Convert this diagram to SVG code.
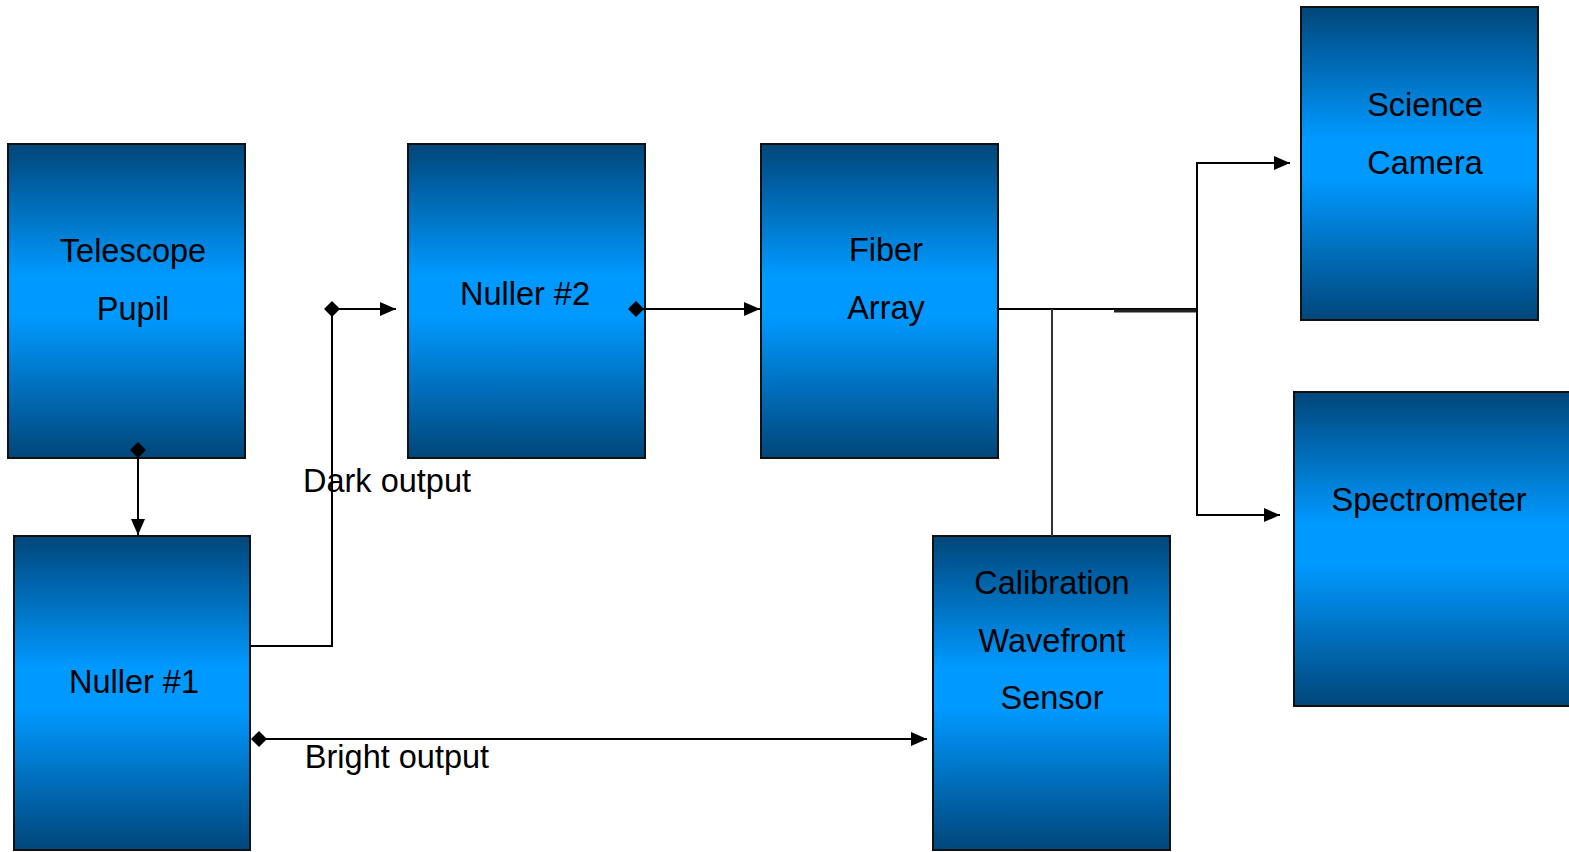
<svg xmlns="http://www.w3.org/2000/svg" width="1569" height="852" viewBox="0 0 1569 852">
<style>
.box{fill:url(#g);stroke:#111;stroke-width:2}
.t{font-family:"Liberation Sans",Arial,sans-serif;font-size:32.5px;fill:#000;text-anchor:middle}
.c{fill:none;stroke:#000;stroke-width:2}
</style>
<defs>
<linearGradient id="g" x1="0" y1="0" x2="0" y2="1">
<stop offset="0" stop-color="#00467a"/>
<stop offset="0.42" stop-color="#0099ff"/>
<stop offset="0.55" stop-color="#0099ff"/>
<stop offset="1" stop-color="#00467a"/>
</linearGradient>
<marker id="a" markerWidth="16" markerHeight="14" refX="16" refY="7" orient="auto" markerUnits="userSpaceOnUse"><path d="M0,0 L16,7 L0,14 Z" fill="#000"/></marker>
<marker id="d" markerWidth="16" markerHeight="16" refX="8" refY="8" orient="auto" markerUnits="userSpaceOnUse"><path d="M0,8 L8,0 L16,8 L8,16 Z" fill="#000"/></marker>
</defs>
<g id="telescope"><rect class="box" x="8" y="144" width="237" height="314"/><text class="t" x="133" y="262">Telescope</text><text class="t" x="133" y="320">Pupil</text></g>
<g id="nuller2"><rect class="box" x="408" y="144" width="237" height="314"/><text class="t" x="525" y="305">Nuller #2</text></g>
<g id="fiber"><rect class="box" x="761" y="144" width="237" height="314"/><text class="t" x="886" y="261">Fiber</text><text class="t" x="886" y="319">Array</text></g>
<g id="science"><rect class="box" x="1301" y="7" width="237" height="313"/><text class="t" x="1425" y="116">Science</text><text class="t" x="1425" y="174">Camera</text></g>
<g id="spectrometer"><rect class="box" x="1294" y="392" width="290" height="314"/><text class="t" x="1429" y="511">Spectrometer</text></g>
<g id="nuller1"><rect class="box" x="14" y="536" width="236" height="314"/><text class="t" x="134" y="693">Nuller #1</text></g>
<g id="calibration"><rect class="box" x="933" y="536" width="237" height="314"/><text class="t" x="1052" y="594">Calibration</text><text class="t" x="1052" y="652">Wavefront</text><text class="t" x="1052" y="709">Sensor</text></g>
<g id="connectors">
<path class="c" d="M138,450 V535" marker-start="url(#d)" marker-end="url(#a)"/>
<path class="c" d="M250,646 H332 V309 H396"/>
<path class="c" d="M332,309 H396" marker-start="url(#d)" marker-end="url(#a)"/>
<path class="c" d="M636,309 H760" marker-start="url(#d)" marker-end="url(#a)"/>
<path class="c" d="M259,739 H927" marker-start="url(#d)" marker-end="url(#a)"/>
<path class="c" d="M998,309 H1197"/>
<path d="M1114,311 H1197" stroke="#222" stroke-width="3"/>
<path class="c" d="M1197,309 V163 H1290" marker-end="url(#a)"/>
<path class="c" d="M1197,309 V515 H1280" marker-end="url(#a)"/>
<path d="M1052,309 V536" stroke="#333" stroke-width="2"/>
</g>
<g id="labels"><text class="t" x="387" y="492">Dark output</text><text class="t" x="397" y="768">Bright output</text></g>
</svg>
